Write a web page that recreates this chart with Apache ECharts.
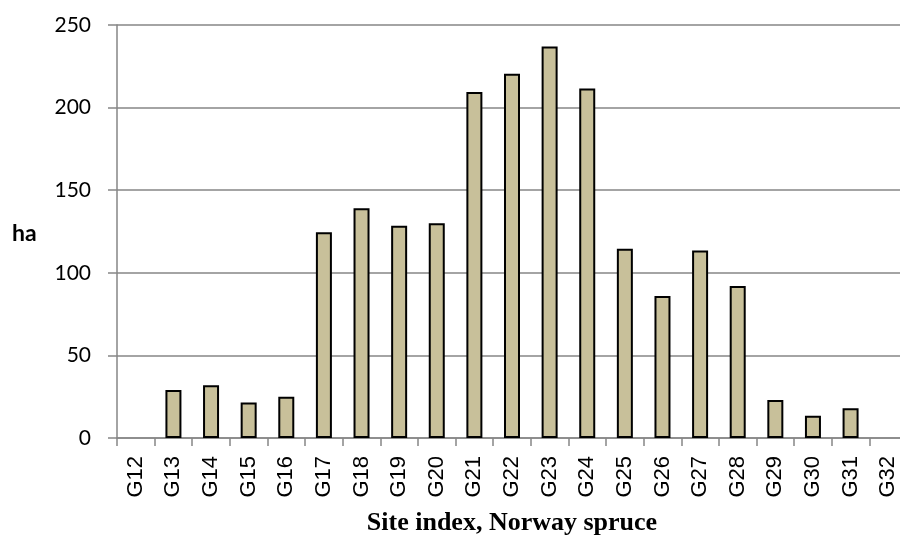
<!DOCTYPE html>
<html>
<head>
<meta charset="utf-8">
<script src="https://cdn.jsdelivr.net/npm/echarts@6/dist/echarts.min.js"></script>
<style>html,body{margin:0;padding:0;background:#fff;}#c{width:900px;height:539px;}</style>
</head>
<body>
<div id="c"></div>
<script>
var categories = ['G12','G13','G14','G15','G16','G17','G18','G19','G20','G21','G22','G23','G24','G25','G26','G27','G28','G29','G30','G31','G32'];
var areaHa = [0,29,32,21.5,25,124.5,139,128.5,130,209.5,220.5,237,211.5,114.5,86,113.5,92,23,13.5,18,0];
var yTicks = {min:0, max:250, interval:50};
var yName = 'ha';
var xName = 'Site index, Norway spruce';

var chart = echarts.init(document.getElementById('c'), null, {renderer:'canvas'});
chart.setOption({
  animation:false,
  backgroundColor:'#ffffff',
  grid:{left:117, top:25, width:790, height:413, containLabel:false, outerBoundsMode:'none'},
  graphic:[{type:'text', left:12, top:222, style:{text:yName, font:'bold 23px Lato, "Open Sans", sans-serif', fill:'#000'}}],
  xAxis:{
    type:'category', data:categories,
    name:xName, nameLocation:'middle', nameGap:72,
    nameTextStyle:{fontFamily:'"Liberation Serif", serif', fontWeight:'bold', fontSize:26, color:'#000'},
    axisLine:{lineStyle:{color:'#868686', width:1.5}},
    axisTick:{show:true, length:8, alignWithLabel:false, lineStyle:{color:'#868686', width:1.5}},
    axisLabel:{rotate:90, fontFamily:'"Liberation Sans", Arial, sans-serif', fontSize:22, color:'#000', margin:18, interval:0}
  },
  yAxis:{
    type:'value', min:yTicks.min, max:yTicks.max, interval:yTicks.interval,
    axisLine:{show:true, lineStyle:{color:'#868686', width:1.5}},
    axisTick:{show:true, length:9, lineStyle:{color:'#868686', width:1.5}},
    splitLine:{lineStyle:{color:'#868686', width:1.5}},
    axisLabel:{fontFamily:'Lato, "Open Sans", sans-serif', fontSize:21, color:'#000', margin:26}
  },
  series:[{
    type:'bar', barWidth:16,
    data:areaHa.map(function(v){ return v === 0 ? {value:v, itemStyle:{borderWidth:0}} : v; }),
    itemStyle:{color:'#C8C09A', borderColor:'#000', borderWidth:2}
  }]
});
</script>
</body>
</html>
